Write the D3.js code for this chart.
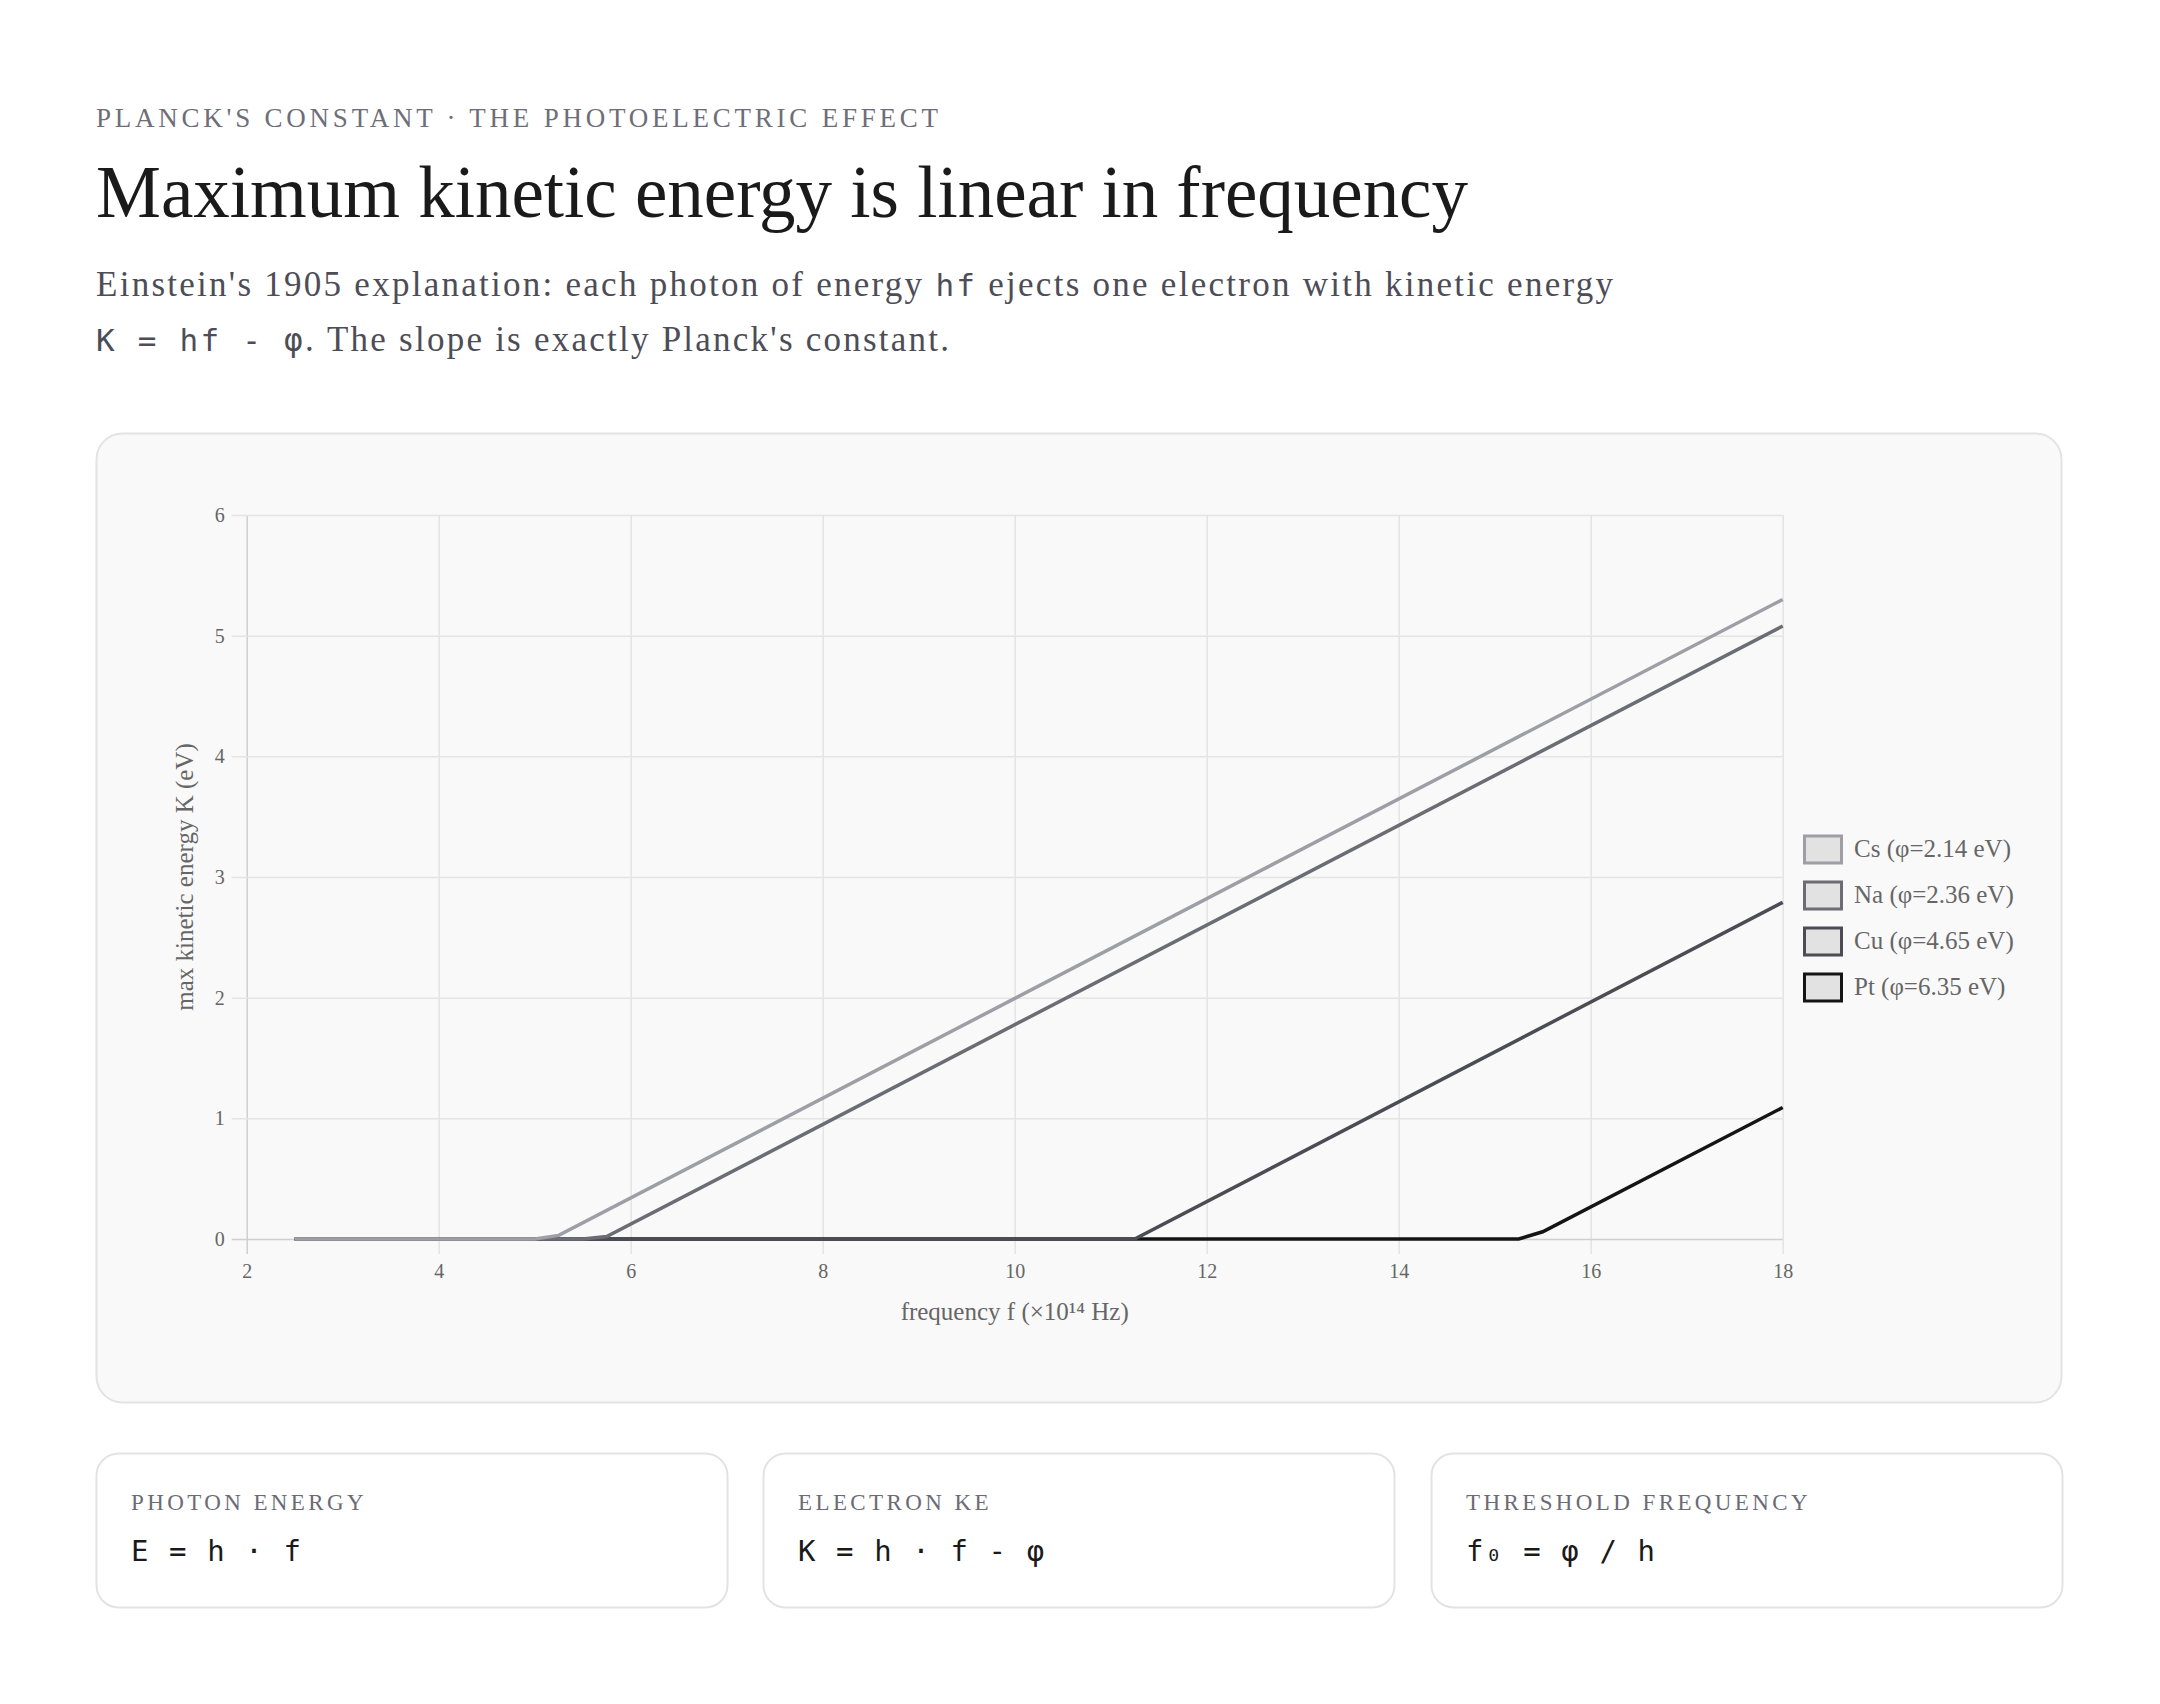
<!DOCTYPE html>
<html>
<head>
<meta charset="utf-8">
<script src="https://cdn.jsdelivr.net/npm/d3@7"></script>
<style>
  body { margin: 0; background: #fff; }
  text { white-space: pre; }
</style>
</head>
<body>
<div id="page"></div>
<script>
// chart values
const xTicks = [2, 4, 6, 8, 10, 12, 14, 16, 18]
const yTicks = [0, 1, 2, 3, 4, 5, 6]
const metals = ['Cs', 'Na', 'Cu', 'Pt']
const workFunctions = [2.14, 2.36, 4.65, 6.35]
// [frequency (x10^14 Hz), K (eV)] vertices
const csPoints = [[2.5, 0], [5.0, 0], [5.25, 0.03], [18, 5.3]]
const naPoints = [[2.5, 0], [5.5, 0], [5.75, 0.02], [18, 5.08]]
const cuPoints = [[2.5, 0], [11.25, 0], [18, 2.79]]
const ptPoints = [[2.5, 0], [15.25, 0], [15.5, 0.06], [18, 1.09]]
const seriesPoints = [csPoints, naPoints, cuPoints, ptPoints]
const seriesColors = ['#9e9ea5', '#6c6c74', '#4c4c54', '#151515']

const cardLabels = ['PHOTON ENERGY', 'ELECTRON KE', 'THRESHOLD FREQUENCY']
const cardFormulas = ['E = h · f', 'K = h · f - φ', 'f₀ = φ / h']

const serif = "'Liberation Serif', 'Times New Roman', serif"
const mono = "'DejaVu Sans Mono', monospace"

const svg = d3.select('#page').append('svg').attr('width', 2160).attr('height', 1704)

// stretch a line with letter spacing so it spans the same width as the reference
const fit = (sel, target) => {
  const n = sel.text().length
  const w = sel.node().getComputedTextLength()
  sel.attr('letter-spacing', (target - w) / (n - 1))
}

// header
const eyebrow = svg.append('text').attr('x', 96).attr('y', 127)
  .attr('font-family', serif).attr('font-size', 27).attr('fill', '#6e6e78')
  .text("PLANCK'S CONSTANT · THE PHOTOELECTRIC EFFECT")
fit(eyebrow, 842)

const title = svg.append('text').attr('x', 96).attr('y', 217)
  .attr('font-family', serif).attr('font-size', 73).attr('fill', '#1a1a1a')
  .text('Maximum kinetic energy is linear in frequency')
fit(title, 1372)

const sub1 = svg.append('text').attr('x', 96).attr('y', 296)
  .attr('font-family', serif).attr('font-size', 35).attr('fill', '#4d4d57')
sub1.append('tspan').text("Einstein's 1905 explanation: each photon of energy ")
sub1.append('tspan').attr('font-family', mono).attr('font-size', 31).text('hf')
sub1.append('tspan').text(' ejects one electron with kinetic energy')
fit(sub1, 1517)

const sub2 = svg.append('text').attr('x', 96).attr('y', 351)
  .attr('font-family', serif).attr('font-size', 35).attr('fill', '#4d4d57')
sub2.append('tspan').attr('font-family', mono).attr('font-size', 31).text('K = hf - φ')
sub2.append('tspan').text(". The slope is exactly Planck's constant.")
fit(sub2, 853)

// chart panel
svg.append('rect').attr('x', 96.5).attr('y', 433.5).attr('width', 1965).attr('height', 969)
  .attr('rx', 26).attr('fill', '#f9f9f9').attr('stroke', '#e3e3e3').attr('stroke-width', 2)

const x = d3.scaleLinear().domain([2, 18]).range([246.7, 1782.7])
const y = d3.scaleLinear().domain([0, 6]).range([1239, 515])
const plotW = x(18) - x(2)
const plotH = y(0) - y(6)
const tickLen = 15

const xAxis = svg.append('g').attr('transform', `translate(0,${y(6)})`)
  .call(d3.axisBottom(x).tickValues(xTicks).tickFormat(d3.format('d')).tickSize(plotH + tickLen).tickPadding(10))
const yAxis = svg.append('g').attr('transform', `translate(${x(18)},0)`)
  .call(d3.axisLeft(y).tickValues(yTicks).tickFormat(d3.format('d')).tickSize(plotW + tickLen).tickPadding(7))

for (const ax of [xAxis, yAxis]) {
  ax.select('.domain').remove()
  ax.selectAll('line').attr('stroke', '#e4e4e4').attr('stroke-width', 1.5)
  ax.selectAll('text').attr('font-family', serif).attr('font-size', 20).attr('fill', '#666')
}
xAxis.selectAll('.tick').filter((d) => d === 2).select('line').attr('stroke', '#cfcfcf')
yAxis.selectAll('.tick').filter((d) => d === 0).select('line').attr('stroke', '#cfcfcf')

svg.append('text').attr('x', x(10)).attr('y', 1320).attr('text-anchor', 'middle')
  .attr('font-family', serif).attr('font-size', 25).attr('fill', '#666')
  .text('frequency f (×10¹⁴ Hz)')
svg.append('text').attr('transform', `translate(193,${(y(0) + y(6)) / 2}) rotate(-90)`)
  .attr('text-anchor', 'middle').attr('font-family', serif).attr('font-size', 25).attr('fill', '#666')
  .text('max kinetic energy K (eV)')

// lines: first series on top, so draw in reverse
const line = d3.line().x((d) => x(d[0])).y((d) => y(d[1]))
const order = d3.range(metals.length).reverse()
svg.append('g').selectAll('path').data(order).enter().append('path')
  .attr('d', (i) => line(seriesPoints[i]))
  .attr('fill', 'none')
  .attr('stroke', (i) => seriesColors[i])
  .attr('stroke-width', 3.5)

// legend
const rowY = d3.scalePoint().domain(metals).range([849, 987])
const legend = svg.append('g').selectAll('g').data(metals).enter().append('g')
  .attr('transform', (d) => `translate(1803,${rowY(d)})`)
legend.append('rect').attr('x', 1.5).attr('y', -13).attr('width', 37).attr('height', 27)
  .attr('fill', '#e2e2e2').attr('stroke', (d, i) => seriesColors[i]).attr('stroke-width', 3)
legend.append('text').attr('x', 51).attr('y', 8)
  .attr('font-family', serif).attr('font-size', 25).attr('fill', '#666')
  .text((d, i) => `${d} (φ=${workFunctions[i].toFixed(2)} eV)`)

// formula cards
const cardX = [96, 763, 1431]
const cards = svg.append('g').selectAll('g').data(cardLabels).enter().append('g')
  .attr('transform', (d, i) => `translate(${cardX[i]},1453)`)
cards.append('rect').attr('x', 0.5).attr('y', 0.5).attr('width', 631).attr('height', 154)
  .attr('rx', 22).attr('fill', '#fff').attr('stroke', '#e3e3e3').attr('stroke-width', 2)
cards.append('text').attr('x', 35).attr('y', 57)
  .attr('font-family', serif).attr('font-size', 23).attr('letter-spacing', 3.4).attr('fill', '#6b6b75')
  .text((d) => d)
cards.append('text').attr('x', 35).attr('y', 108)
  .attr('font-family', mono).attr('font-size', 29).attr('letter-spacing', 1.6).attr('fill', '#1a1a1a')
  .text((d, i) => cardFormulas[i])
</script>
</body>
</html>
